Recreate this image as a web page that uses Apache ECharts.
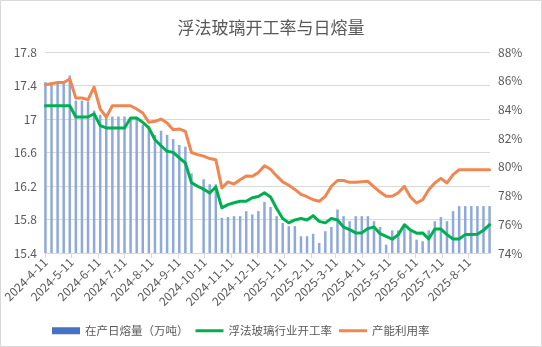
<!DOCTYPE html>
<html>
<head>
<meta charset="utf-8">
<script src="https://cdn.jsdelivr.net/npm/echarts@6/dist/echarts.min.js"></script>
<style>
  html, body { margin: 0; padding: 0; background: #fff; }
  #chart { width: 542px; height: 347px; }
</style>
</head>
<body>
<div id="chart"></div>
<script>
// Weekly observation dates (Thursdays)
const weeks = [
  '2024-04-11','2024-04-18','2024-04-25','2024-05-02','2024-05-09','2024-05-16','2024-05-23','2024-05-30',
  '2024-06-06','2024-06-13','2024-06-20','2024-06-27','2024-07-04','2024-07-11','2024-07-18','2024-07-25',
  '2024-08-01','2024-08-08','2024-08-15','2024-08-22','2024-08-29','2024-09-05','2024-09-12','2024-09-19',
  '2024-09-26','2024-10-03','2024-10-10','2024-10-17','2024-10-24','2024-10-31','2024-11-07','2024-11-14',
  '2024-11-21','2024-11-28','2024-12-05','2024-12-12','2024-12-19','2024-12-26','2025-01-02','2025-01-09',
  '2025-01-16','2025-01-23','2025-01-30','2025-02-06','2025-02-13','2025-02-20','2025-02-27','2025-03-06',
  '2025-03-13','2025-03-20','2025-03-27','2025-04-03','2025-04-10','2025-04-17','2025-04-24','2025-05-01',
  '2025-05-08','2025-05-15','2025-05-22','2025-05-29','2025-06-05','2025-06-12','2025-06-19','2025-06-26',
  '2025-07-03','2025-07-10','2025-07-17','2025-07-24','2025-07-31','2025-08-07','2025-08-14','2025-08-21',
  '2025-08-28','2025-09-04'
];

// 在产日熔量（万吨）
const meltOutput = [
  17.44, 17.44, 17.45, 17.45, 17.52, 17.22, 17.22, 17.21,
  17.10, 17.05, 17.03, 17.03, 17.03, 17.03, 17.02, 17.00,
  16.93, 16.91, 16.81, 16.86, 16.81, 16.76, 16.69, 16.67,
  16.35, null, 16.28, 16.22, 16.22, 15.82, 15.83, 15.84,
  15.84, 15.90, 15.86, 15.90, 16.01, 15.95, 15.84, 15.76,
  15.72, 15.72, 15.60, 15.60, 15.63, 15.52, 15.66, 15.71,
  15.92, 15.84, 15.78, 15.84, 15.84, 15.84, 15.78, 15.71,
  15.50, 15.67, 15.67, 15.72, 15.66, 15.56, 15.54, 15.67,
  15.78, 15.83, 15.78, 15.90, 15.96, 15.96, 15.96, 15.96,
  15.96, 15.96
];

// 浮法玻璃行业开工率（%）
const operatingRate = [
  84.26, 84.26, 84.26, 84.26, 84.26, 83.47, 83.47, 83.47,
  83.70, 82.87, 82.71, 82.71, 82.71, 82.71, 83.40, 83.40,
  83.10, 82.71, 81.89, 81.47, 81.08, 81.01, 80.62, 80.27,
  78.90, 78.65, 78.45, 78.18, 78.60, 77.14, 77.37, 77.50,
  77.60, 77.60, 77.85, 77.94, 78.20, 77.90, 77.10, 76.40,
  76.10, 76.30, 76.40, 76.30, 76.60, 76.20, 76.10, 76.40,
  76.30, 75.81, 75.63, 75.40, 75.40, 75.70, 75.81, 75.35,
  75.16, 74.96, 75.28, 75.97, 75.60, 75.38, 75.40, 74.98,
  75.67, 75.67, 75.28, 74.98, 74.98, 75.28, 75.28, 75.30,
  75.58, 75.97
];

// 产能利用率（%）
const capacityUtil = [
  85.72, 85.79, 85.88, 85.88, 86.12, 84.80, 84.80, 84.68,
  85.56, 84.03, 83.47, 84.26, 84.26, 84.26, 84.26, 84.03,
  83.75, 83.10, 83.17, 83.33, 83.05, 82.59, 82.64, 82.47,
  81.00, 80.85, 80.75, 80.58, 80.50, 78.53, 78.95, 78.80,
  79.10, 79.37, 79.34, 79.60, 80.08, 79.83, 79.37, 78.95,
  78.72, 78.43, 78.08, 77.92, 77.71, 77.60, 77.95, 78.65,
  79.05, 79.05, 78.92, 78.92, 78.97, 78.99, 78.60, 78.25,
  77.95, 77.95, 78.20, 78.64, 77.90, 77.48, 77.71, 78.40,
  78.88, 79.20, 78.88, 79.46, 79.80, 79.80, 79.80, 79.80,
  79.80, 79.80
];

// Monthly axis labels
const monthTicks = [
  '2024-4-11','2024-5-11','2024-6-11','2024-7-11','2024-8-11','2024-9-11','2024-10-11','2024-11-11',
  '2024-12-11','2025-1-11','2025-2-11','2025-3-11','2025-4-11','2025-5-11','2025-6-11','2025-7-11','2025-8-11'
];

const seriesNames = ['在产日熔量（万吨）', '浮法玻璃行业开工率', '产能利用率'];

// Day number (UTC based) so the date scale is linear in days
function toDay(s) {
  const p = s.split('-').map(Number);
  return Date.UTC(p[0], p[1] - 1, p[2]) / 86400000;
}

const weekDays = weeks.map(toDay);
const tickDays = monthTicks.map(toDay);
const tickLabelOf = {};
tickDays.forEach((d, i) => { tickLabelOf[d] = monthTicks[i]; });

const FONT = '"Noto Sans CJK SC", "Microsoft YaHei", sans-serif';
const GREY_TEXT = '#595959';
const GRID_LINE = '#d9d9d9';
const LINE_ICON = 'path://M0,0 L28,0 L28,3 L0,3 Z';

const chart = echarts.init(document.getElementById('chart'), null, { renderer: 'canvas' });

chart.setOption({
  animation: false,
  backgroundColor: '#ffffff',
  textStyle: { fontFamily: FONT },
  graphic: [{
    type: 'rect',
    silent: true,
    shape: { x: 0.5, y: 0.5, width: 541, height: 346 },
    style: { fill: 'none', stroke: GRID_LINE, lineWidth: 1 }
  }],
  title: {
    text: '浮法玻璃开工率与日熔量',
    left: 'center',
    top: 14,
    textStyle: { fontFamily: FONT, fontSize: 17, fontWeight: 'normal', color: GREY_TEXT }
  },
  legend: {
    left: 52,
    top: 325,
    padding: 0,
    itemWidth: 28,
    itemHeight: 7,
    itemGap: 7,
    textStyle: { fontFamily: FONT, fontSize: 11.5, color: GREY_TEXT },
    data: [
      { name: seriesNames[0], icon: 'rect', itemStyle: { color: '#4472C4' } },
      { name: seriesNames[1], icon: LINE_ICON, itemStyle: { color: '#00B050' } },
      { name: seriesNames[2], icon: LINE_ICON, itemStyle: { color: '#F08650' } }
    ]
  },
  grid: { left: 45, right: 52, top: 52, bottom: 94 },
  xAxis: {
    type: 'value',
    min: weekDays[0] - 0.5,
    max: weekDays[weekDays.length - 1] + 0.5,
    axisLine: { show: true, onZero: false, lineStyle: { color: GRID_LINE, width: 1 } },
    axisTick: { show: true, customValues: tickDays, length: 5, lineStyle: { color: GRID_LINE } },
    axisLabel: {
      customValues: tickDays,
      rotate: 45,
      margin: 7,
      color: GREY_TEXT,
      fontFamily: FONT,
      fontSize: 12,
      hideOverlap: false,
      formatter: function (v) { return tickLabelOf[Math.round(v)] || ''; }
    },
    splitLine: { show: false }
  },
  yAxis: [
    {
      type: 'value',
      position: 'left',
      min: 15.4,
      max: 17.8,
      interval: 0.4,
      axisLine: { show: false },
      axisTick: { show: false },
      axisLabel: { color: GREY_TEXT, fontFamily: FONT, fontSize: 12, margin: 8 },
      splitLine: { show: true, lineStyle: { color: GRID_LINE, width: 1 } }
    },
    {
      type: 'value',
      position: 'right',
      min: 74,
      max: 88,
      interval: 2,
      axisLine: { show: false },
      axisTick: { show: false },
      axisLabel: { color: GREY_TEXT, fontFamily: FONT, fontSize: 12, margin: 8, formatter: '{value}%' },
      splitLine: { show: false }
    }
  ],
  series: [
    {
      name: seriesNames[0],
      type: 'bar',
      yAxisIndex: 0,
      barWidth: 2.5,
      itemStyle: { color: '#8EA9DB' },
      data: weekDays.map((d, i) => [d, meltOutput[i]])
    },
    {
      name: seriesNames[1],
      type: 'line',
      yAxisIndex: 1,
      symbol: 'none',
      color: '#00B050',
      lineStyle: { width: 3, color: '#00B050', cap: 'round', join: 'round' },
      data: weekDays.map((d, i) => [d, operatingRate[i]])
    },
    {
      name: seriesNames[2],
      type: 'line',
      yAxisIndex: 1,
      symbol: 'none',
      color: '#F08650',
      lineStyle: { width: 3, color: '#F08650', cap: 'round', join: 'round' },
      data: weekDays.map((d, i) => [d, capacityUtil[i]])
    }
  ]
});
</script>
</body>
</html>
